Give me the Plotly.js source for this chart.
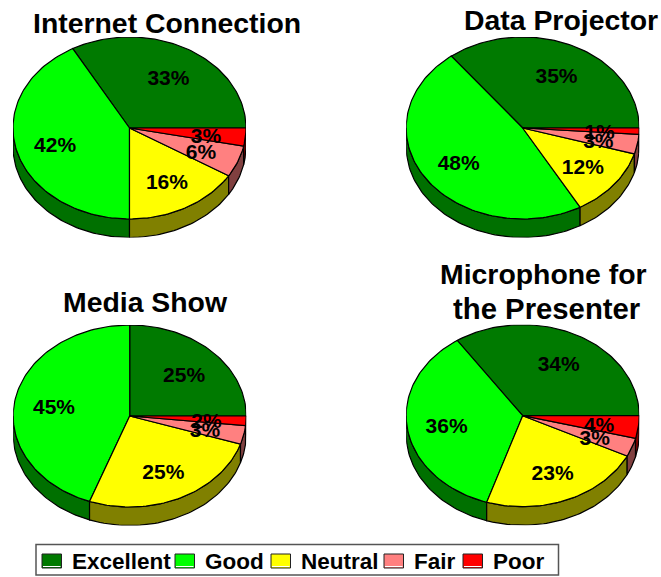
<!DOCTYPE html>
<html><head><meta charset="utf-8">
<script src="https://cdn.plot.ly/plotly-3.0.1.min.js"></script>
<style>html,body{margin:0;padding:0;background:#fff}#c{width:661px;height:577px}</style>
</head><body><div id="c"></div>
<script>
const categories = ['Excellent','Good','Neutral','Fair','Poor'];
const topColors  = ['#007a00','#00ff00','#ffff00','#ff8080','#ff0000'];
const sideColors = ['#007000','#007000','#808000','#804040','#800000'];
const internetValues   = [33.1,41.9,16.2,5.6,3.2];
const projectorValues  = [35.5,47.7,12.2,3.5,1.1];
const mediaValues      = [25.0,44.4,25.6,3.3,1.7];
const microphoneValues = [34.5,35.5,22.7,3.3,4.0];
const internetLabels   = ['33%','42%','16%','6%','3%'];
const projectorLabels  = ['35%','48%','12%','3%','1%'];
const mediaLabels      = ['25%','45%','25%','3%','2%'];
const microphoneLabels = ['34%','36%','23%','3%','4%'];

const W=661,H=577,RX=116.5,RY=91,DEPTH=18.5,LABEL_R=0.66,LABEL_DY=-0.04;
const font='"Liberation Sans",Arial,sans-serif';
const panels=[
 {v:internetValues,l:internetLabels,cx:129.5,cy:128},
 {v:projectorValues,l:projectorLabels,cx:522.7,cy:128},
 {v:mediaValues,l:mediaLabels,cx:129.7,cy:416},
 {v:microphoneValues,l:microphoneLabels,cx:522.7,cy:415.7}
];
const titleLines=[['Internet Connection',167,23],['Data Projector',561,20],['Media Show',145,302],['Microphone for',543,274],['the Presenter',546.5,308]];
const D=DEPTH/RY;
const traces=[],layout={width:W,height:H,margin:{l:0,r:0,t:0,b:0},paper_bgcolor:'#fff',plot_bgcolor:'rgba(0,0,0,0)',showlegend:false,annotations:[],shapes:[]};
function arc(a0,a1){const n=Math.max(2,Math.ceil(Math.abs(a1-a0)/1.5)),p=[];
  for(let i=0;i<=n;i++){const a=(a0+(a1-a0)*i/n)*Math.PI/180;p.push([Math.cos(a),Math.sin(a)]);}return p;}
panels.forEach((p,k)=>{
  const s=k?String(k+1):'';
  layout['xaxis'+s]={domain:[(p.cx-RX)/W,(p.cx+RX)/W],range:[-1,1],visible:false,fixedrange:true,anchor:'y'+s};
  layout['yaxis'+s]={domain:[1-(p.cy+RY+DEPTH)/H,1-(p.cy-RY)/H],range:[-1-D,1],visible:false,fixedrange:true,anchor:'x'+s};
  const total=p.v.reduce((a,b)=>a+b,0);
  const ax={xaxis:'x'+s,yaxis:'y'+s,cliponaxis:false,hoverinfo:'skip',showlegend:false};
  let start=0; const sl=p.v.map(v=>{const a0=start,a1=start+v/total*360;start=a1;return [a0,a1];});
  sl.forEach((b,i)=>{
    const a0=Math.max(b[0],180),a1=b[1];
    if(a1<=180) return;
    const top=arc(a0,a1),bot=top.slice().reverse();
    const xs=top.map(q=>q[0]).concat(bot.map(q=>q[0])), ys=top.map(q=>q[1]).concat(bot.map(q=>q[1]-D));
    xs.push(xs[0]);ys.push(ys[0]);
    traces.push(Object.assign({type:'scatter',mode:'lines',x:xs,y:ys,fill:'toself',fillcolor:sideColors[i],line:{color:'#000',width:1.2},name:categories[i]},ax));
  });
  sl.forEach((b,i)=>{
    const a=arc(b[0],b[1]);
    const xs=[0].concat(a.map(q=>q[0]),[0]), ys=[0].concat(a.map(q=>q[1]),[0]);
    traces.push(Object.assign({type:'scatter',mode:'lines',x:xs,y:ys,fill:'toself',fillcolor:topColors[i],line:{color:'#000',width:1.2},name:categories[i]},ax));
  });
  const lx=[],ly=[];
  sl.forEach(b=>{const m=(b[0]+b[1])/2*Math.PI/180;lx.push(LABEL_R*Math.cos(m));ly.push(LABEL_R*Math.sin(m)+LABEL_DY);});
  traces.push(Object.assign({type:'scatter',mode:'text',x:lx,y:ly,text:p.l,textposition:'middle center',textfont:{family:font,size:21,color:'#000',weight:700}},ax));
});
titleLines.forEach(t=>{
  const size=t[0]==='the Presenter'?29.3:28.4;
  layout.annotations.push({xref:'paper',yref:'paper',x:t[1]/W,y:1-t[2]/H,xanchor:'center',yanchor:'middle',showarrow:false,text:'<b>'+t[0]+'</b>',font:{family:font,size:size,color:'#000'}});
});
const lg=[[42,72],[175,205],[271,301],[384,414],[463,493]];
layout.shapes.push({type:'rect',xref:'paper',yref:'paper',x0:36/W,x1:558.5/W,y0:1-575/H,y1:1-544.5/H,line:{color:'#555',width:1.5},fillcolor:'#fff'});
categories.forEach((c,i)=>{
  layout.shapes.push({type:'rect',xref:'paper',yref:'paper',x0:lg[i][0]/W,x1:(lg[i][0]+19.5)/W,y0:1-568/H,y1:1-554/H,line:{color:'#222',width:1},fillcolor:topColors[i]});
  layout.shapes.push({type:'line',xref:'paper',yref:'paper',x0:(lg[i][0]+1)/W,x1:(lg[i][0]+18.5)/W,y0:1-566.5/H,y1:1-566.5/H,line:{color:'#fff',width:1}});
  layout.annotations.push({xref:'paper',yref:'paper',x:lg[i][1]/W,y:1-561/H,xanchor:'left',yanchor:'middle',xshift:-2,showarrow:false,text:'<b>'+c+'</b>',font:{family:font,size:22.5,color:'#000'}});
});
Plotly.newPlot('c',traces,layout,{displayModeBar:false,staticPlot:true});
</script></body></html>
